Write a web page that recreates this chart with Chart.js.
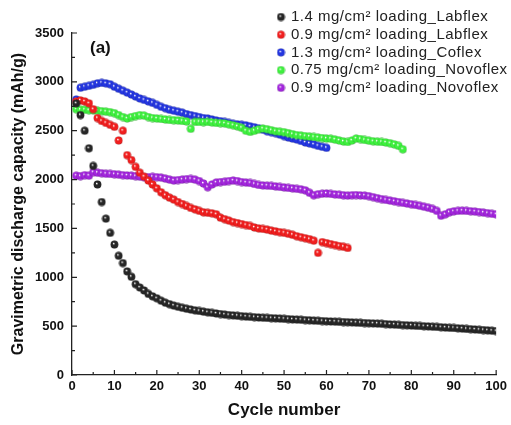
<!DOCTYPE html>
<html>
<head>
<meta charset="utf-8">
<script src="https://cdn.jsdelivr.net/npm/chart.js"></script>
<style>
  html, body { margin: 0; padding: 0; background: #fff; }
  #wrap { width: 511px; height: 425px; }
</style>
</head>
<body>
<div id="wrap"><canvas id="capacityChart"></canvas></div>
<script>
var seriesLabels = [
  '1.4 mg/cm\u00b2 loading_Labflex',
  '0.9 mg/cm\u00b2 loading_Labflex',
  '1.3 mg/cm\u00b2 loading_Coflex',
  '0.75 mg/cm\u00b2 loading_Novoflex',
  '0.9 mg/cm\u00b2 loading_Novoflex'
]
var seriesColors = ['#262626', '#f01e1e', '#2436e0', '#3ef03e', '#a226dc']

// capacity per cycle (mAh/g), cycle 1 onwards
var labflex14 = [2780, 2660, 2500, 2320, 2140, 1950, 1770, 1600, 1455, 1335,
  1220, 1145, 1060, 1005, 930, 895, 865, 830, 805, 785,
  760, 740, 725, 710, 698, 688, 678, 670, 662, 655,
  648, 642, 636, 630, 624, 618, 614, 610, 606, 602,
  598, 595, 592, 589, 586, 584, 582, 580, 577, 575,
  572, 569, 567, 565, 562, 560, 557, 555, 552, 550,
  548, 546, 544, 542, 540, 538, 536, 534, 532, 530,
  528, 526, 524, 521, 518, 516, 513, 511, 509, 506,
  504, 502, 499, 497, 494, 492, 489, 486, 483, 481,
  478, 475, 472, 469, 466, 463, 460, 457, 453, 450]
var labflex09 = [2800, 2810, 2800, 2780, 2720, 2630, 2600, 2580, 2560, 2540,
  2400, 2500, 2250, 2200, 2130, 2070, 2030, 1990, 1950, 1910,
  1870, 1840, 1815, 1795, 1770, 1750, 1730, 1710, 1695, 1680,
  1665, 1660, 1655, 1645, 1610, 1595, 1580, 1565, 1555, 1545,
  1535, 1525, 1510, 1500, 1495, 1488, 1478, 1470, 1462, 1455,
  1445, 1435, 1420, 1410, 1400, 1390, 1375, 1250, 1360, 1350,
  1340, 1330, 1320, 1312, 1300]
var coflex13 = [2820, 2940, 2950, 2960, 2970, 2985, 2990, 2985, 2975, 2950,
  2930, 2910, 2890, 2870, 2850, 2830, 2815, 2800, 2785, 2765,
  2745, 2730, 2715, 2705, 2695, 2685, 2670, 2660, 2650, 2640,
  2630, 2625, 2615, 2605, 2598, 2590, 2580, 2570, 2565, 2560,
  2555, 2545, 2535, 2525, 2510, 2495, 2485, 2475, 2460, 2445,
  2430, 2420, 2410, 2395, 2380, 2370, 2360, 2345, 2335, 2325]
var novoflex075 = [2720, 2715, 2715, 2710, 2710, 2705, 2700, 2695, 2690, 2680,
  2660, 2640, 2625, 2640, 2650, 2660, 2655, 2640, 2630, 2625,
  2620, 2615, 2610, 2608, 2605, 2600, 2595, 2520, 2590, 2590,
  2588, 2590, 2585, 2580, 2578, 2575, 2565, 2556, 2545, 2530,
  2500, 2488, 2500, 2515, 2522, 2515, 2505, 2495, 2490, 2485,
  2475, 2465, 2455, 2450, 2445, 2440, 2436, 2430, 2425, 2420,
  2418, 2410, 2400, 2390, 2385, 2400, 2420, 2415, 2405, 2398,
  2392, 2388, 2385, 2380, 2372, 2360, 2345, 2310]
var novoflex09 = [2040, 2035, 2045, 2040, 2075, 2070, 2065, 2060, 2058, 2055,
  2050, 2045, 2042, 2040, 2035, 2030, 2025, 2025, 2028, 2025,
  2020, 2010, 2000, 1990, 1995, 2000, 2005, 2007, 2000, 1985,
  1960, 1922, 1950, 1970, 1975, 1978, 1985, 1990, 1985, 1975,
  1970, 1965, 1955, 1945, 1940, 1938, 1935, 1930, 1925, 1920,
  1915, 1910, 1905, 1900, 1890, 1865, 1840, 1850, 1855, 1858,
  1853, 1848, 1845, 1840, 1836, 1840, 1842, 1838, 1836, 1830,
  1820, 1810, 1800, 1792, 1785, 1778, 1770, 1762, 1755, 1748,
  1740, 1732, 1722, 1712, 1700, 1680, 1630, 1645, 1665, 1675,
  1680, 1682, 1680, 1676, 1672, 1668, 1662, 1656, 1650, 1645]
var allSeries = [labflex14, labflex09, coflex13, novoflex075, novoflex09]
var drawOrder = [0, 0, 2, 1, 0]

var xTicks = [0, 10, 20, 30, 40, 50, 60, 70, 80, 90, 100]
var yTicks = [0, 500, 1000, 1500, 2000, 2500, 3000, 3500]

var fontFam = '"Liberation Sans", Arial, sans-serif'

// little shaded ball used as the point marker
function ball(color) {
  var c = document.createElement('canvas')
  c.width = 9; c.height = 9
  var g = c.getContext('2d')
  var grad = g.createRadialGradient(3.6, 3.3, 0.2, 4.5, 4.5, 4.2)
  grad.addColorStop(0, '#ffffff')
  grad.addColorStop(0.3, color)
  grad.addColorStop(0.8, color)
  grad.addColorStop(1, shade(color))
  g.fillStyle = grad
  g.beginPath()
  g.arc(4.5, 4.5, 3.9, 0, Math.PI * 2)
  g.fill()
  return c
}
function shade(hex) {
  var n = parseInt(hex.slice(1), 16)
  var r = Math.round(((n >> 16) & 255) * 0.65)
  var gg = Math.round(((n >> 8) & 255) * 0.65)
  var b = Math.round((n & 255) * 0.65)
  return 'rgb(' + r + ',' + gg + ',' + b + ')'
}
var balls = seriesColors.map(ball)

var datasets = allSeries.map(function (vals, i) {
  return {
    label: seriesLabels[i],
    data: vals.map(function (v, k) { return { x: k + 1, y: v } }),
    pointStyle: balls[i],
    pointRadius: 3.9,
    backgroundColor: seriesColors[i],
    borderColor: seriesColors[i],
    showLine: false,
    order: drawOrder[i]
  }
})

var extras = {
  id: 'extras',
  afterDraw: function (chart) {
    var ctx = chart.ctx
    var xs = chart.scales.x, ys = chart.scales.y
    var area = chart.chartArea
    ctx.save()
    ctx.strokeStyle = '#222'
    ctx.lineWidth = 1.2
    ctx.beginPath()
    for (var v = 0; v <= 100; v += 5) {
      var px = xs.getPixelForValue(v)
      var len = (v % 10 === 0) ? 5 : 3
      ctx.moveTo(px, area.bottom)
      ctx.lineTo(px, area.bottom - len)
    }
    for (var w = 0; w <= 3500; w += 250) {
      var py = ys.getPixelForValue(w)
      var l2 = (w % 500 === 0) ? 5 : 3
      ctx.moveTo(area.left, py)
      ctx.lineTo(area.left + l2, py)
    }
    ctx.stroke()

    // panel tag
    ctx.fillStyle = '#111'
    ctx.font = 'bold 17px ' + fontFam
    ctx.textBaseline = 'middle'
    ctx.textAlign = 'left'
    ctx.fillText('(a)', 90, 48)

    // legend
    ctx.font = '15px ' + fontFam
    if ('letterSpacing' in ctx) ctx.letterSpacing = '0.5px'
    seriesLabels.forEach(function (lab, i) {
      var y = 17 + i * 17.7
      ctx.drawImage(balls[i], 281 - 4.5, y - 4.5)
      ctx.fillStyle = '#222'
      ctx.fillText(lab, 291, y)
    })
    ctx.restore()
  }
}

var ctx = document.getElementById('capacityChart').getContext('2d')
var capacityChart = new Chart(ctx, {
  type: 'scatter',
  data: { datasets: datasets },
  options: {
    responsive: true,
    maintainAspectRatio: false,
    animation: false,
    layout: { padding: { top: 33, right: 13, left: 0, bottom: 0 } },
    plugins: {
      legend: { display: false },
      tooltip: { enabled: false }
    },
    scales: {
      x: {
        type: 'linear',
        min: xTicks[0],
        max: xTicks[xTicks.length - 1],
        afterFit: function (s) { s.height = 50 },
        afterBuildTicks: function (s) { s.ticks = xTicks.map(function (t) { return { value: t } }) },
        grid: { drawOnChartArea: false, drawTicks: false },
        border: { display: true, color: '#222', width: 1.3 },
        ticks: {
          color: '#111', padding: 4,
          font: { family: fontFam, size: 13, weight: 'bold' },
          maxRotation: 0,
          callback: function (v) { return String(v) }
        },
        title: {
          display: true, text: 'Cycle number', color: '#111',
          font: { family: fontFam, size: 17, weight: 'bold' },
          padding: { top: 0, bottom: 4 }
        }
      },
      y: {
        min: yTicks[0],
        max: yTicks[yTicks.length - 1],
        afterFit: function (s) { s.width = 72 },
        afterBuildTicks: function (s) { s.ticks = yTicks.map(function (t) { return { value: t } }) },
        grid: { drawOnChartArea: false, drawTicks: false },
        border: { display: true, color: '#222', width: 1.3 },
        ticks: {
          color: '#111', padding: 8,
          font: { family: fontFam, size: 13, weight: 'bold' },
          callback: function (v) { return String(v) }
        },
        title: {
          display: true, text: 'Gravimetric discharge capacity (mAh/g)', color: '#111',
          font: { family: fontFam, size: 16, weight: 'bold' },
          padding: { top: 9, bottom: 0 }
        }
      }
    }
  },
  plugins: [extras]
})
</script>
</body>
</html>
